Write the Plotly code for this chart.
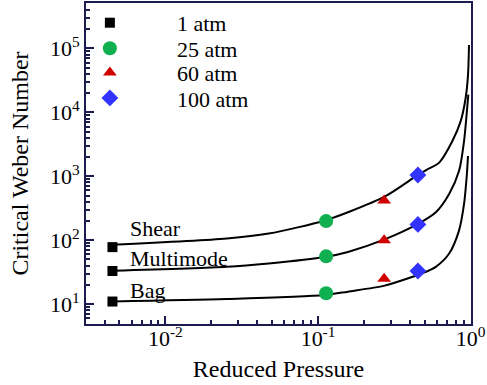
import math
import plotly.graph_objects as go

# ---------------- data ----------------
# symbols at four ambient pressures (reduced pressure, critical We for bag / multimode / shear)
p1_x = [0.0045, 0.0045, 0.0045]
p1_y = [11.0, 33.0, 78.0]
p25_x = [0.113, 0.113, 0.113]
p25_y = [14.8, 56.0, 199.0]
p60_x = [0.271, 0.271, 0.271]
p60_y = [25.0, 100.0, 417.0]
p100_x = [0.451, 0.451, 0.451]
p100_y = [33.0, 177.0, 1050.0]

# curves
shear_x = [0.0045, 0.0253, 0.0475, 0.111, 0.157, 0.273, 0.451, 0.525, 0.622, 0.759, 0.860, 0.9264, 0.9603, 0.9747]
shear_y = [85, 106, 127, 204, 274, 480, 1050, 1300, 1637, 3555, 7280, 16750, 38600, 113000]
multi_x = [0.0045, 0.0253, 0.0475, 0.111, 0.157, 0.273, 0.451, 0.591, 0.7225, 0.839, 0.9046, 0.9404, 0.9647]
multi_y = [33.3, 38.4, 43.4, 54.8, 65.6, 103, 180, 274, 529, 1217, 3555, 9250, 18900]
bag_x = [0.0045, 0.0253, 0.111, 0.157, 0.273, 0.417, 0.484, 0.591, 0.7225, 0.839, 0.9046, 0.9404, 0.9603]
bag_y = [11.0, 12.0, 13.9, 15.7, 19.5, 26.8, 30.5, 38.4, 61.9, 142.6, 370, 957, 2080]

curve_labels = ["Shear", "Multimode", "Bag"]
label_x = [0.0057, 0.0057, 0.0057]
label_y = [150, 52, 16.5]

x_tickvals = [0.01, 0.1, 1]
x_ticktext = ["10<sup>-2</sup>", "10<sup>-1</sup>", "10<sup>0</sup>"]
y_tickvals = [1e1, 1e2, 1e3, 1e4, 1e5]
y_ticktext = ["10<sup>1</sup>", "10<sup>2</sup>", "10<sup>3</sup>", "10<sup>4</sup>", "10<sup>5</sup>"]

FONT = "Liberation Serif, Times New Roman, serif"
INK = "#1c1c50"
X_RANGE = [-2.52, 0.002]
Y_RANGE = [0.69, 5.71]

xmin, xmax = 10 ** X_RANGE[0], 10 ** X_RANGE[1]
ymin, ymax = 10 ** Y_RANGE[0], 10 ** Y_RANGE[1]
x_minor = [m * 10 ** e for e in (-3, -2, -1) for m in range(2, 10) if xmin < m * 10 ** e < xmax]
y_minor = [m * 10 ** e for e in (0, 1, 2, 3, 4, 5) for m in range(2, 10) if ymin < m * 10 ** e < ymax]

fig = go.Figure()

for cx, cy in [(shear_x, shear_y), (multi_x, multi_y), (bag_x, bag_y)]:
    fig.add_trace(go.Scatter(x=cx, y=cy, mode="lines",
                             line=dict(color="black", width=2, shape="spline", smoothing=0.8),
                             showlegend=False, hoverinfo="skip"))

series = [
    ("1 atm", p1_x, p1_y, "square", "black", 10, "legend"),
    ("25 atm", p25_x, p25_y, "circle", "#10b050", 14, "legend2"),
    ("60 atm", p60_x, p60_y, "triangle-up", "#d00000", 12, "legend3"),
    ("100 atm", p100_x, p100_y, "diamond", "#3333ff", 13, "legend4"),
]
for name, sx, sy, sym, col, sz, lg in series:
    fig.add_trace(go.Scatter(x=sx, y=sy, mode="markers", name=name,
                             marker=dict(symbol=sym, color=col, size=sz, line=dict(width=0)),
                             legend=lg))

for t, lx, ly in zip(curve_labels, label_x, label_y):
    fig.add_annotation(x=math.log10(lx), y=math.log10(ly), text=t, showarrow=False,
                       xref="x", yref="y", xanchor="left", yanchor="middle",
                       font=dict(size=22, family=FONT, color="black"))

# legend layout (one item per legend to match the tight spacing)
leg_rows = [0.938, 0.8585, 0.783, 0.7037]
leg_common = dict(x=-0.112, xanchor="left", yanchor="middle", bgcolor="rgba(0,0,0,0)",
                  font=dict(size=22, family=FONT, color="black"), itemwidth=124,
                  borderwidth=0)

axis_common = dict(type="log", ticks="inside", ticklen=8, tickwidth=2, tickcolor=INK,
                   showline=True, linecolor=INK, linewidth=2, mirror=True,
                   showgrid=False, zeroline=False, ticklabeloverflow="allow",
                   tickfont=dict(size=22, family=FONT, color="black"))

fig.update_layout(
    width=487, height=385, margin=dict(l=86, r=14, t=1, b=61),
    paper_bgcolor="white", plot_bgcolor="white",
    font=dict(family=FONT, color="black"),
    legend=dict(y=leg_rows[0], **leg_common),
    legend2=dict(y=leg_rows[1], **leg_common),
    legend3=dict(y=leg_rows[2], **leg_common),
    legend4=dict(y=leg_rows[3], **leg_common),
    xaxis=dict(range=X_RANGE, tickvals=x_tickvals, ticktext=x_ticktext, ticklabelstandoff=-6,
               minor=dict(tickvals=x_minor, ticks="inside", ticklen=4, tickwidth=1.5, tickcolor=INK, showgrid=False),
               title=dict(text="Reduced Pressure", font=dict(size=24, family=FONT, color="black"), standoff=10),
               **axis_common),
    yaxis=dict(range=Y_RANGE, tickvals=y_tickvals, ticktext=y_ticktext,
               minor=dict(tickvals=y_minor, ticks="inside", ticklen=4, tickwidth=1.5, tickcolor=INK, showgrid=False),
               title=dict(text="Critical Weber Number", font=dict(size=24, family=FONT, color="black"), standoff=14),
               **axis_common),
)

fig.write_html("out.html")
